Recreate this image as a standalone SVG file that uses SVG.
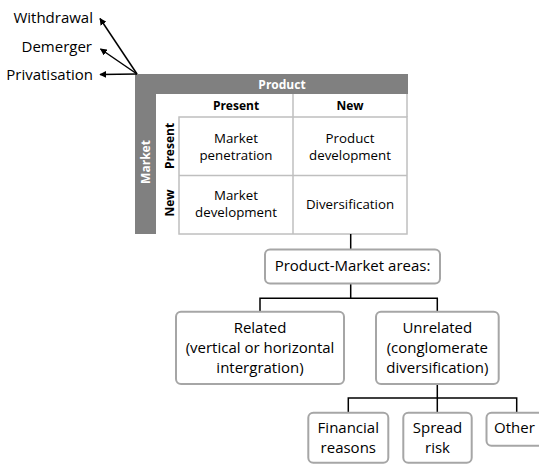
<svg xmlns="http://www.w3.org/2000/svg" width="539" height="464" viewBox="0 0 539 464">
  <defs>
    <marker id="arrow" viewBox="0 0 10 10" refX="9" refY="5" markerWidth="7" markerHeight="7" markerUnits="userSpaceOnUse" orient="auto">
      <path d="M0,0 L10,5 L0,10 Z" fill="#000"/>
    </marker>
    <style>
      text { font-family: "Open Sans", "DejaVu Sans", sans-serif; fill: #000; }
      .lbl { font-size: 15px; text-anchor: end; }
      .cell { font-size: 13.3px; text-anchor: middle; }
      .hdr { font-size: 12px; font-weight: bold; text-anchor: middle; }
      .hdr-w { font-size: 12px; font-weight: bold; text-anchor: middle; fill: #fff; }
      .box { fill: #fff; stroke: #a6a6a6; stroke-width: 2; }
      .box-text { font-size: 15px; text-anchor: middle; }
      .box-text-start { font-size: 15px; text-anchor: start; }
      .grid { fill: none; stroke: #bfbfbf; stroke-width: 1.5; }
      .bar { fill: #808080; }
      .conn { fill: none; stroke: #000; stroke-width: 1.5; }
    </style>
  </defs>

  <!-- exit options -->
  <g id="exit-options">
    <text class="lbl" x="93" y="23">Withdrawal</text>
    <text class="lbl" x="92" y="52">Demerger</text>
    <text class="lbl" x="93" y="79.5">Privatisation</text>
  </g>

  <!-- product / market matrix -->
  <g id="matrix">
    <rect class="bar" x="135" y="74" width="273" height="20"/>
    <rect class="bar" x="135" y="74" width="21" height="160"/>
    <text class="hdr-w" x="282" y="88.5">Product</text>
    <text class="hdr-w" transform="translate(146,162) rotate(-90)" y="4.3">Market</text>

    <rect class="grid" x="179" y="117" width="228" height="117"/>
    <line class="grid" x1="293" y1="94" x2="293" y2="234"/>
    <line class="grid" x1="407" y1="94" x2="407" y2="117"/>
    <line class="grid" x1="179" y1="175.5" x2="407" y2="175.5"/>

    <text class="hdr" x="236" y="109.5">Present</text>
    <text class="hdr" x="350" y="109.5">New</text>
    <text class="hdr" transform="translate(169.5,146) rotate(-90)" y="4.3">Present</text>
    <text class="hdr" transform="translate(169.5,203) rotate(-90)" y="4.3">New</text>

    <g id="market-penetration">
      <text class="cell" x="236" y="142.7">Market</text>
      <text class="cell" x="236" y="160.3">penetration</text>
    </g>
    <g id="product-development">
      <text class="cell" x="350" y="142.7">Product</text>
      <text class="cell" x="350" y="160.3">development</text>
    </g>
    <g id="market-development">
      <text class="cell" x="236" y="200">Market</text>
      <text class="cell" x="236" y="217">development</text>
    </g>
    <g id="diversification">
      <text class="cell" x="350" y="209.3">Diversification</text>
    </g>
  </g>

  <!-- connectors -->
  <g id="connectors">
    <line class="conn" x1="137" y1="74" x2="100" y2="18.5" marker-end="url(#arrow)"/>
    <line class="conn" x1="137" y1="74" x2="100.5" y2="49" marker-end="url(#arrow)"/>
    <line class="conn" x1="137" y1="74" x2="100" y2="74.5" marker-end="url(#arrow)"/>
    <path class="conn" d="M350.7,234 V249.5"/>
    <path class="conn" d="M350.7,283.5 V298.3 M260,311.7 V298.3 H437.3 V311.7"/>
    <path class="conn" d="M437.3,384 V398 M348.3,412.7 V398 H516.7 V412.7 M437.3,398 V412.7"/>
  </g>

  <g id="product-market-areas">
    <rect class="box" x="265" y="249.5" width="175" height="34" rx="5"/>
    <text class="box-text" x="352.5" y="271">Product-Market areas:</text>
  </g>

  <g id="related">
    <rect class="box" x="176" y="311.7" width="168" height="72.3" rx="5"/>
    <text class="box-text" x="260" y="333.3">Related</text>
    <text class="box-text" x="260" y="353">(vertical or horizontal</text>
    <text class="box-text" x="260" y="372.7">intergration)</text>
  </g>

  <g id="unrelated">
    <rect class="box" x="376" y="311.7" width="122.7" height="72.3" rx="5"/>
    <text class="box-text" x="437.3" y="333.3">Unrelated</text>
    <text class="box-text" x="437.3" y="353">(conglomerate</text>
    <text class="box-text" x="437.3" y="372.7">diversification)</text>
  </g>

  <g id="financial-reasons">
    <rect class="box" x="308.3" y="412.7" width="80" height="50" rx="5"/>
    <text class="box-text" x="348.3" y="433.3">Financial</text>
    <text class="box-text" x="348.3" y="452.7">reasons</text>
  </g>

  <g id="spread-risk">
    <rect class="box" x="403.3" y="412.7" width="68.4" height="50" rx="5"/>
    <text class="box-text" x="437.5" y="433.3">Spread</text>
    <text class="box-text" x="437.5" y="452.7">risk</text>
  </g>

  <g id="other">
    <rect class="box" x="486.5" y="412.7" width="60" height="33" rx="5"/>
    <text class="box-text-start" x="494" y="433.3">Other</text>
  </g>
</svg>
